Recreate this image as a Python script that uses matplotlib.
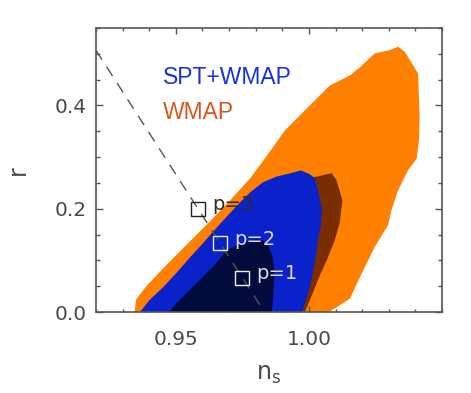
import matplotlib
matplotlib.use("Agg")
import matplotlib.pyplot as plt
from matplotlib.patches import Polygon
from matplotlib.ticker import MultipleLocator

# ---- data ----
wmap95_ns = [0.9345, 0.9351, 0.9392, 0.9467, 0.9542, 0.9625, 0.9704, 0.9779, 0.9835,
             0.9910, 0.9992, 1.0079, 1.0154, 1.0191, 1.0247, 1.0304, 1.0335, 1.0360,
             1.0410, 1.0416, 1.0414, 1.0405, 1.0372, 1.0335, 1.0310, 1.0297, 1.0247,
             1.0198, 1.0154, 1.0116, 1.0085, 1.0079]
wmap95_r = [0.000, 0.0246, 0.0517, 0.0923, 0.1310, 0.1736, 0.2162, 0.2588, 0.2975,
            0.3517, 0.3942, 0.4387, 0.4581, 0.4736, 0.5007, 0.5071, 0.5137, 0.5040,
            0.4620, 0.3807, 0.3362, 0.2975, 0.2742, 0.2355, 0.1968, 0.1678, 0.1258,
            0.0743, 0.0259, 0.0130, 0.0033, 0.000]

wmap68_ns = [0.9985, 1.0011, 1.0041, 1.0067, 1.0097, 1.0116, 1.0126, 1.0104, 1.0085,
             1.0034, 0.9985, 0.9891, 0.9779, 0.9666, 0.9629]
wmap68_r = [0.000, 0.0323, 0.0710, 0.1001, 0.1388, 0.1736, 0.2162, 0.2549, 0.2690,
            0.2626, 0.2588, 0.2452, 0.1871, 0.1001, 0.000]

spt95_ns = [0.9366, 0.9400, 0.9452, 0.9501, 0.9550, 0.9602, 0.9644, 0.9689, 0.9734,
            0.9779, 0.9827, 0.9880, 0.9929, 0.9970, 1.0004, 1.0023, 1.0037, 1.0049,
            1.0045, 1.0034, 1.0023, 1.0007, 0.9989, 0.9974]
spt95_r = [0.000, 0.0226, 0.0478, 0.0749, 0.1039, 0.1330, 0.1581, 0.1833, 0.2084,
           0.2317, 0.2510, 0.2626, 0.2684, 0.2742, 0.2665, 0.2588, 0.2297, 0.1968,
           0.1678, 0.1388, 0.1001, 0.0555, 0.0226, 0.000]

spt68_ns = [0.9476, 0.9501, 0.9551, 0.9601, 0.9644, 0.9691, 0.9754, 0.9801, 0.9824,
            0.9846, 0.9861, 0.9869, 0.9869, 0.9865, 0.9861]
spt68_r = [0.000, 0.0163, 0.0420, 0.0677, 0.0904, 0.1194, 0.1355, 0.1407, 0.1388,
           0.1291, 0.1117, 0.0865, 0.0555, 0.0226, 0.000]

line_ns = [0.92, 0.9833]
line_r = [0.5067, 0.0]

model_ns = [0.9750, 0.9667, 0.9583]
model_r = [0.0667, 0.1333, 0.2000]
model_labels = ["p=1", "p=2", "p=3"]
model_colors = ["#eeeeee", "#eeeeee", "#222222"]
label_colors = ["#dcdce8", "#dcdce8", "#2a2a2a"]

xtick_vals = [0.95, 1.00]
xtick_labels = ["0.95", "1.00"]
ytick_vals = [0.0, 0.2, 0.4]
ytick_labels = ["0.0", "0.2", "0.4"]

# ---- figure ----
fig = plt.figure(figsize=(4.71, 3.93), dpi=100)
ax = fig.add_axes([0.2038, 0.2061, 0.7346, 0.7227])

ax.add_patch(Polygon(list(zip(wmap95_ns, wmap95_r)), closed=True,
                     facecolor="#ff7f00", edgecolor="none", zorder=1))
ax.add_patch(Polygon(list(zip(wmap68_ns, wmap68_r)), closed=True,
                     facecolor="#7a2e00", edgecolor="none", zorder=2))
ax.add_patch(Polygon(list(zip(spt95_ns, spt95_r)), closed=True,
                     facecolor="#0a22cc", edgecolor="none", zorder=3))
ax.add_patch(Polygon(list(zip(spt68_ns, spt68_r)), closed=True,
                     facecolor="#020c3c", edgecolor="none", zorder=4))

ax.plot(line_ns, line_r, color="#555555", lw=1.0, dashes=(8, 6), zorder=5)

for xv, yv, lab, mc, lc in zip(model_ns, model_r, model_labels, model_colors, label_colors):
    ax.plot([xv], [yv], marker="s", markersize=9.7, markerfacecolor="none",
            markeredgecolor=mc, markeredgewidth=1.0, zorder=6)
    ax.annotate(lab, (xv, yv), xytext=(10.3, -1), textcoords="offset points",
                ha="left", va="baseline", color=lc, fontsize=14, zorder=7,
                family="DejaVu Sans")

ax.text(0.9452, 0.442, "SPT+WMAP", color="#1a33d9", fontsize=16.5,
        family="Liberation Sans", ha="left", va="baseline", zorder=7)
ax.text(0.9452, 0.3743, "WMAP", color="#d9571c", fontsize=16.5,
        family="Liberation Sans", ha="left", va="baseline", zorder=7)

ax.set_xlim(0.92, 1.05)
ax.set_ylim(0.0, 0.55)
ax.xaxis.set_minor_locator(MultipleLocator(0.01))
ax.yaxis.set_minor_locator(MultipleLocator(0.05))
ax.set_xticks(xtick_vals)
ax.set_xticklabels(xtick_labels)
ax.set_yticks(ytick_vals)
ax.set_yticklabels(ytick_labels)

ax.tick_params(axis="x", which="major", direction="in", length=4, width=1,
               top=True, bottom=True, color="#555555", pad=13, labelsize=14.5,
               labelcolor="#4a4a4a")
ax.tick_params(axis="x", which="minor", direction="in", length=2, width=1,
               top=True, bottom=True, color="#555555")
ax.tick_params(axis="y", which="major", direction="in", length=5, width=1,
               left=True, right=True, color="#555555", pad=6.5, labelsize=14.5,
               labelcolor="#4a4a4a")
ax.tick_params(axis="y", which="minor", direction="in", length=2.6, width=1,
               left=True, right=True, color="#555555")
for lab in ax.get_xticklabels() + ax.get_yticklabels():
    lab.set_family("DejaVu Sans")

for sp in ax.spines.values():
    sp.set_color("#555555")
    sp.set_linewidth(1.2)
    sp.set_zorder(10)

ax.set_xlabel("n$_\\mathregular{s}$", fontsize=17, color="#4a4a4a",
              family="DejaVu Sans")
ax.xaxis.label.set_verticalalignment("baseline")
ax.xaxis.set_label_coords(0.5, (312 - 380) / 284)
ax.set_ylabel("r", fontsize=17, color="#4a4a4a", family="DejaVu Sans")
ax.yaxis.label.set_verticalalignment("baseline")
ax.yaxis.set_label_coords((25 - 96) / 346, 0.5)

fig.savefig("out.png", dpi=100)
